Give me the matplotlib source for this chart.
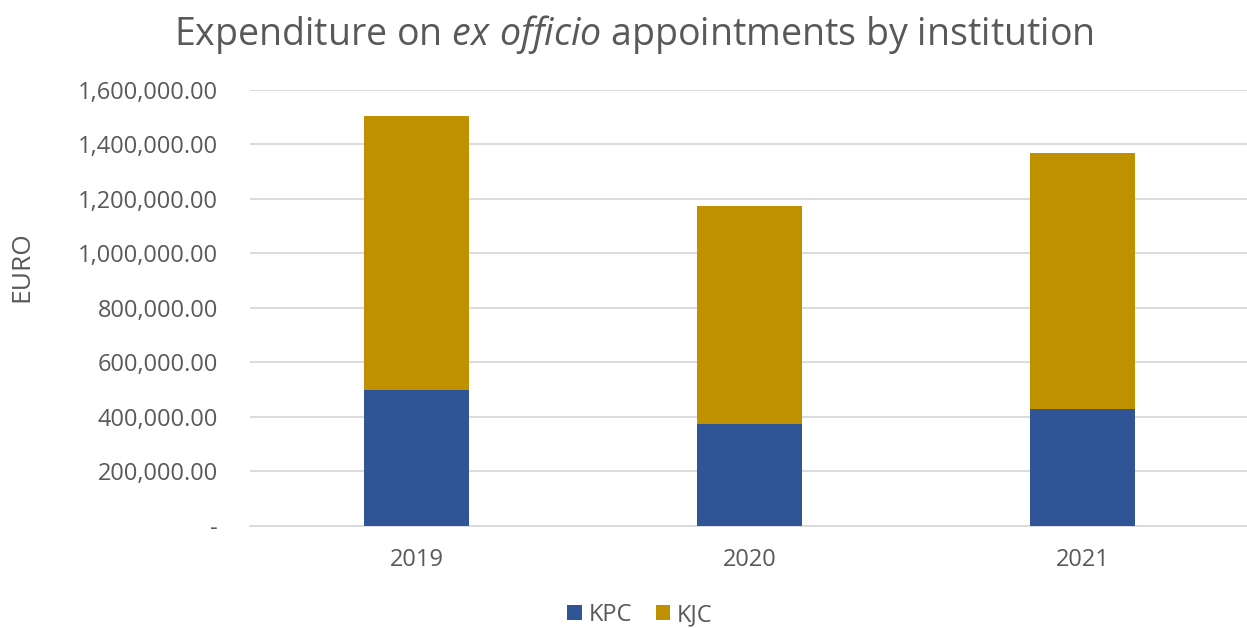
import matplotlib
matplotlib.use("Agg")
from matplotlib import pyplot as plt
from matplotlib.ticker import FuncFormatter, MultipleLocator

# data
years = ["2019", "2020", "2021"]
kpc = [500000, 375000, 429000]
kjc = [1005000, 798000, 941000]
series_names = ["KPC", "KJC"]
colors = ["#2F5597", "#BF9000"]

TEXT = "#595959"
GRID = "#D9D9D9"

plt.rcParams['font.family'] = ['Open Sans', 'DejaVu Sans']
plt.rcParams['mathtext.fontset'] = 'custom'
plt.rcParams['mathtext.rm'] = 'Open Sans'
plt.rcParams['mathtext.it'] = 'Open Sans:italic'


def euro_fmt(v, pos):
    if abs(v) < 1e-6:
        return "-"
    return f"{v:,.2f}"


fig = plt.figure(figsize=(12.47, 6.28), dpi=100)
ax = fig.add_axes([250 / 1247, 1 - 525.7 / 628, 999 / 1247, 435.7 / 628])

x = list(range(len(years)))
ax.bar(x, kpc, width=0.315, color=colors[0], label=series_names[0], zorder=3)
ax.bar(x, kjc, width=0.315, bottom=kpc, color=colors[1], label=series_names[1], zorder=3)

ax.set_xlim(-0.5, len(years) - 0.5)
ax.set_ylim(0, 1600000)
ax.yaxis.set_major_locator(MultipleLocator(200000))
ax.yaxis.set_major_formatter(FuncFormatter(euro_fmt))
ax.set_xticks(x)
ax.set_xticklabels(years)

ax.grid(axis='y', color=GRID, linewidth=1.3, zorder=0)
for side in ['left', 'right', 'top']:
    ax.spines[side].set_visible(False)
ax.spines['bottom'].set_color(GRID)
ax.spines['bottom'].set_linewidth(1.3)
ax.tick_params(axis='both', length=0, labelsize=17, labelcolor=TEXT)
ax.tick_params(axis='y', pad=23)
ax.tick_params(axis='x', pad=16)

fig.text(22 / 1247, 1 - 267 / 628, "EURO", rotation=90, ha='center', va='center',
         fontsize=19, color=TEXT)

fig.text(634 / 1247, 1 - 34 / 628, r"Expenditure on $\mathit{ex\ officio}$ appointments by institution",
         ha='center', va='center', fontsize=27, color=TEXT)

leg = fig.legend(loc='center', bbox_to_anchor=(640 / 1247, 1 - 615 / 628), ncol=2,
                 frameon=False, fontsize=17, handlelength=0.6, handleheight=0.6,
                 handletextpad=0.3, columnspacing=1.0)
for t in leg.get_texts():
    t.set_color(TEXT)

fig.savefig("out.png", dpi=100)
